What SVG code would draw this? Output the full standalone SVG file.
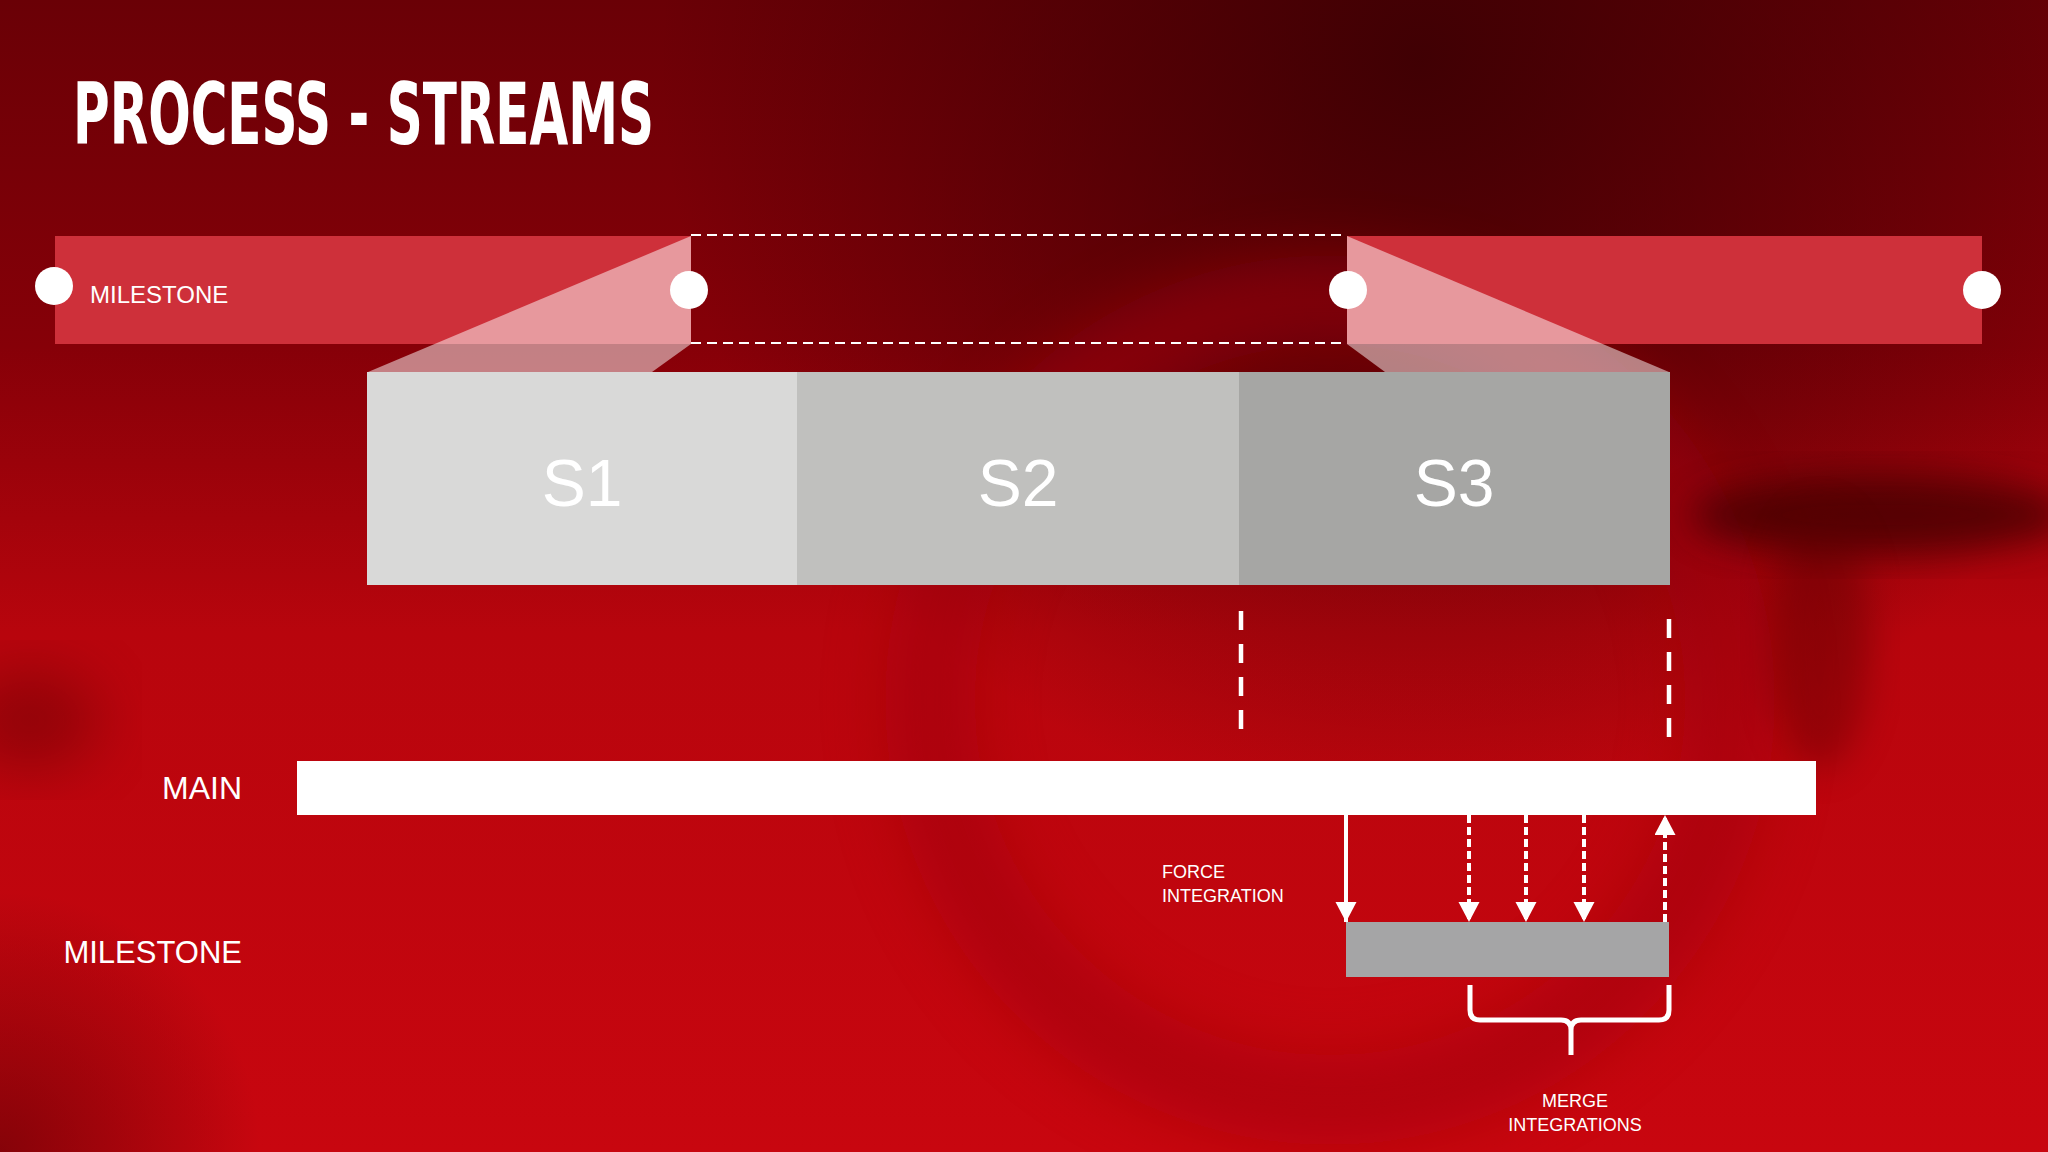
<svg xmlns="http://www.w3.org/2000/svg" width="2048" height="1152" viewBox="0 0 2048 1152">
  <defs>
    <linearGradient id="bgV" x1="0" y1="0" x2="0" y2="1">
      <stop offset="0" stop-color="#6a0006"/>
      <stop offset="0.3" stop-color="#860008"/>
      <stop offset="0.55" stop-color="#b8050d"/>
      <stop offset="1" stop-color="#c8060f"/>
    </linearGradient>
    <radialGradient id="darkTR" cx="1420" cy="60" r="760" gradientUnits="userSpaceOnUse">
      <stop offset="0" stop-color="#380003" stop-opacity="0.85"/>
      <stop offset="1" stop-color="#380003" stop-opacity="0"/>
    </radialGradient>
    <radialGradient id="darkBL" cx="0" cy="1152" r="260" gradientUnits="userSpaceOnUse">
      <stop offset="0" stop-color="#5a0004" stop-opacity="0.6"/>
      <stop offset="1" stop-color="#5a0004" stop-opacity="0"/>
    </radialGradient>
    <filter id="blur" x="-30%" y="-30%" width="160%" height="160%">
      <feGaussianBlur stdDeviation="30"/>
    </filter>
    <filter id="blurSmall" x="-30%" y="-30%" width="160%" height="160%">
      <feGaussianBlur stdDeviation="18"/>
    </filter>
    <marker id="arrow" markerUnits="userSpaceOnUse" markerWidth="22" markerHeight="22" refX="20" refY="10.5" orient="auto">
      <path d="M0,0 L20,10.5 L0,21 Z" fill="#ffffff"/>
    </marker>
    <style>
      .lbl { font-family: "Liberation Sans", Arial, sans-serif; fill: #ffffff; }
      .slbl { font-family: "Liberation Sans", Arial, sans-serif; fill: #ffffff; font-size: 66px; text-anchor: middle; }
      .msbar { fill: #ce303a; }
      .proj { fill: #ffffff; fill-opacity: 0.5; }
      .dot { fill: #ffffff; }
      .guide { stroke: #ffffff; stroke-width: 2; stroke-dasharray: 10 6; fill: none; }
      .vguide { stroke: #ffffff; stroke-width: 4.5; stroke-dasharray: 19 14; fill: none; }
      .flow { stroke: #ffffff; stroke-width: 4; fill: none; marker-end: url(#arrow); }
      .dashed { stroke-dasharray: 8 4; }
    </style>
  </defs>

  <!-- background -->
  <g id="background">
    <rect x="0" y="0" width="2048" height="1152" fill="url(#bgV)"/>
    <rect x="0" y="0" width="2048" height="1152" fill="url(#darkTR)"/>
    <rect x="0" y="0" width="2048" height="1152" fill="url(#darkBL)"/>
    <circle cx="1330" cy="700" r="400" fill="none" stroke="#a00008" stroke-width="90" opacity="0.55" filter="url(#blur)"/>
    <ellipse cx="1880" cy="515" rx="190" ry="40" fill="#3a0003" opacity="0.7" filter="url(#blurSmall)"/>
    <ellipse cx="1820" cy="640" rx="50" ry="130" fill="#5a0004" opacity="0.4" filter="url(#blurSmall)"/>
    <ellipse cx="30" cy="720" rx="70" ry="50" fill="#4a0004" opacity="0.35" filter="url(#blur)"/>
  </g>

  <g id="title">
    <text x="73" y="144" textLength="581" lengthAdjust="spacingAndGlyphs" style="font-family: 'DejaVu Sans Condensed', 'DejaVu Sans', sans-serif; font-weight: bold; font-size: 86px; fill: #ffffff;">PROCESS - STREAMS</text>
  </g>

  <!-- top milestone timeline -->
  <g id="milestone-bar-left">
    <rect class="msbar" x="55" y="236" width="636" height="108"/>
    <text class="lbl" x="90" y="303" font-size="24">MILESTONE</text>
  </g>
  <g id="milestone-bar-right">
    <rect class="msbar" x="1347" y="236" width="635" height="108"/>
  </g>
  <g id="projection-left">
    <polygon class="proj" points="691,236 691,344 652,372 368,372"/>
  </g>
  <g id="projection-right">
    <polygon class="proj" points="1347,236 1669,372 1385,372 1347,344"/>
  </g>

  <!-- streams -->
  <g id="stream-s1">
    <rect x="367" y="372" width="430" height="213" fill="#d9d9d8"/>
    <text class="slbl" x="582" y="506">S1</text>
  </g>
  <g id="stream-s2">
    <rect x="797" y="372" width="442" height="213" fill="#c0c0be"/>
    <text class="slbl" x="1018" y="506">S2</text>
  </g>
  <g id="stream-s3">
    <rect x="1239" y="372" width="431" height="213" fill="#a6a6a4"/>
    <text class="slbl" x="1454" y="506">S3</text>
  </g>

  <!-- main -->
  <g id="main">
    <text class="lbl" x="242" y="799" font-size="32" text-anchor="end">MAIN</text>
    <rect x="297" y="761" width="1519" height="54" fill="#ffffff"/>
  </g>

  <!-- milestone stream -->
  <g id="milestone">
    <text class="lbl" x="242" y="963" font-size="31" text-anchor="end">MILESTONE</text>
    <rect x="1346" y="922" width="323" height="55" fill="#a5a5a6"/>
  </g>

  <g id="labels">
    <text class="lbl" x="1162" y="878" font-size="18">FORCE</text>
    <text class="lbl" x="1162" y="902" font-size="18">INTEGRATION</text>
    <text class="lbl" x="1575" y="1107" font-size="18" text-anchor="middle">MERGE</text>
    <text class="lbl" x="1575" y="1131" font-size="18" text-anchor="middle">INTEGRATIONS</text>
  </g>

  <!-- connectors -->
  <g id="connectors">
    <line class="guide" x1="691" y1="235" x2="1347" y2="235"/>
    <line class="guide" x1="691" y1="343" x2="1347" y2="343"/>
    <line class="vguide" x1="1241" y1="611" x2="1241" y2="731"/>
    <line class="vguide" x1="1669" y1="619" x2="1669" y2="738"/>
    <line class="flow" x1="1346" y1="815" x2="1346" y2="922"/>
    <line class="flow dashed" x1="1469" y1="815" x2="1469" y2="922"/>
    <line class="flow dashed" x1="1526" y1="815" x2="1526" y2="922"/>
    <line class="flow dashed" x1="1584" y1="815" x2="1584" y2="922"/>
    <line class="flow dashed" x1="1665" y1="922" x2="1665" y2="815"/>
    <path d="M1470,985 L1470,1010 Q1470,1020 1480,1020 L1561,1020 Q1571,1020 1571,1030 L1571,1055 M1669,985 L1669,1010 Q1669,1020 1659,1020 L1581,1020 Q1571,1020 1571,1030" fill="none" stroke="#ffffff" stroke-width="5"/>
  </g>

  <!-- milestone dots (on top) -->
  <g id="milestone-dots">
    <circle class="dot" cx="54" cy="286" r="19"/>
    <circle class="dot" cx="689" cy="290" r="19"/>
    <circle class="dot" cx="1348" cy="290" r="19"/>
    <circle class="dot" cx="1982" cy="290" r="19"/>
  </g>
</svg>
